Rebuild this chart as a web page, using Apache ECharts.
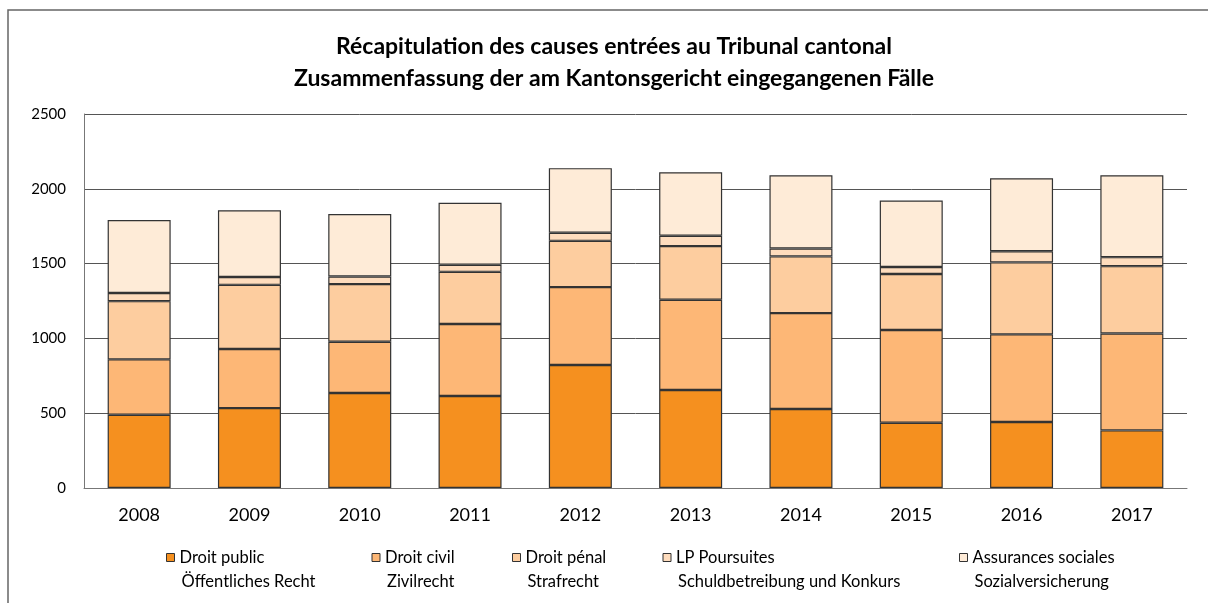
<!DOCTYPE html>
<html>
<head>
	<meta charset="utf-8">
	<title>Tribunal cantonal</title>
	<script type="text/javascript" src="https://cdn.jsdelivr.net/npm/echarts@6/dist/echarts.min.js"></script>
	<style>
		html, body { margin: 0; padding: 0; background: #fff; }
		#chart { width: 1208px; height: 603px; }
	</style>
</head>
<body>
<div id="chart"></div>
<script type="text/javascript">
	// valeurs
	var years = ['2008', '2009', '2010', '2011', '2012', '2013', '2014', '2015', '2016', '2017'];
	var droitPublic = [490, 534, 635, 615, 822, 655, 528, 436, 441, 385];
	var droitCivil = [370, 395, 343, 481, 521, 603, 641, 620, 586, 648];
	var droitPenal = [389, 429, 385, 349, 309, 359, 379, 374, 481, 450];
	var lpPoursuites = [54, 52, 51, 47, 54, 69, 53, 47, 75, 60];
	var assurancesSociales = [488, 447, 417, 414, 432, 425, 490, 445, 488, 548];

	var namesFr = ['Droit public', 'Droit civil', 'Droit pénal', 'LP Poursuites', 'Assurances sociales'];
	var namesDe = ['Öffentliches Recht', 'Zivilrecht', 'Strafrecht', 'Schuldbetreibung und Konkurs', 'Sozialversicherung'];
	var colors = ['#f5901f', '#fdb776', '#fdcd9f', '#fedcbd', '#feebd7'];
	var legendWidths = [192, 127, 137, 283, 160];

	var seriesData = [droitPublic, droitCivil, droitPenal, lpPoursuites, assurancesSociales];

	var rich = {};
	for (var i = 0; i < namesFr.length; i++) {
		rich['f' + i] = { width: legendWidths[i], lineHeight: 24, fontSize: 16.5, fontFamily: 'Lato', color: '#000' };
		rich['d' + i] = { width: legendWidths[i] - 2, lineHeight: 24, fontSize: 16.5, fontFamily: 'Lato', color: '#000', padding: [0, 0, 0, 2] };
	}

	var series = [];
	for (var s = 0; s < seriesData.length; s++) {
		series.push({
			name: namesFr[s],
			type: 'bar',
			stack: 'total',
			barWidth: 63,
			data: seriesData[s],
			itemStyle: {
				color: colors[s],
				borderColor: '#333',
				borderWidth: 1.2
			}
		});
	}

	var myChart = echarts.init(document.getElementById('chart'));
	var option = {
		animation: false,
		title: {
			text: 'Récapitulation des causes entrées au Tribunal cantonal\nZusammenfassung der am Kantonsgericht eingegangenen Fälle',
			left: 609,
			textAlign: 'center',
			top: 26,
			textStyle: {
				fontFamily: 'Lato',
				fontSize: 23,
				fontWeight: 'bold',
				lineHeight: 32,
				color: '#000'
			}
		},
		graphic: [{
			type: 'rect',
			silent: true,
			shape: { x: 8, y: 10, width: 1300, height: 700 },
			style: { fill: 'none', stroke: '#666', lineWidth: 1.5 }
		}],
		grid: {
			left: 84,
			right: 21,
			top: 114,
			bottom: 115
		},
		legend: {
			left: 166,
			top: 549,
			padding: 0,
			itemGap: 0,
			itemWidth: 8,
			itemHeight: 8,
			icon: 'rect',
			selectedMode: false,
			data: namesFr,
			itemStyle: { borderColor: '#333', borderWidth: 1 },
			textStyle: { padding: [24, 0, 0, 0], rich: rich },
			formatter: function (name) {
				var k = namesFr.indexOf(name);
				return '{f' + k + '|' + name + '}\n{d' + k + '|' + namesDe[k] + '}';
			}
		},
		xAxis: {
			type: 'category',
			data: years,
			axisLine: { show: true, lineStyle: { color: '#777', width: 1 } },
			axisTick: { show: false },
			axisLabel: { fontFamily: 'Lato', fontSize: 18, color: '#000', margin: 18 }
		},
		yAxis: {
			type: 'value',
			min: 0,
			max: 2500,
			interval: 500,
			axisLine: { show: true, lineStyle: { color: '#777', width: 1 } },
			axisTick: { show: false },
			splitLine: { lineStyle: { color: '#555', width: 1 } },
			axisLabel: {
				fontFamily: 'Lato',
				fontSize: 15,
				color: '#000',
				margin: 18,
				formatter: function (v) { return String(v); }
			}
		},
		series: series
	};
	myChart.setOption(option);
</script>
</body>
</html>
